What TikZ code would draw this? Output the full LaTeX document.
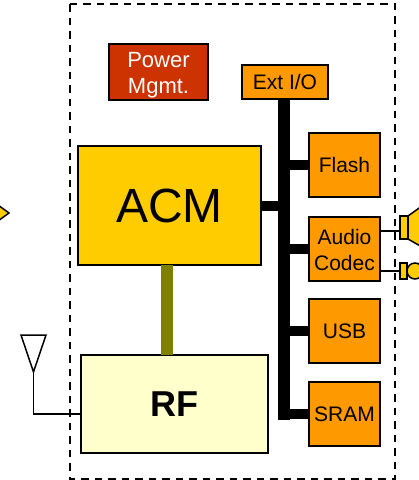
\documentclass[tikz,border=0pt]{standalone}
\usepackage{fontspec}
\setmainfont{Liberation Sans}
\definecolor{orangebox}{HTML}{FF9900}
\definecolor{acmyellow}{HTML}{FFCC00}
\definecolor{powerred}{HTML}{CC3300}
\definecolor{rfyellow}{HTML}{FFFFCC}
\definecolor{olivebar}{HTML}{808000}
\tikzset{
  x=1pt,y=-1pt,
  iobox/.style={draw=black,line width=1.6pt,inner sep=0pt,outer sep=0pt,align=center,anchor=north west,fill=orangebox,font=\fontsize{21}{25}\selectfont},
  busbar/.style={draw=none,fill=black,inner sep=0pt,outer sep=0pt,anchor=north west,minimum width=12pt,minimum height=321pt},
  buslink/.style={draw=black,line width=10pt},
  thin link/.style={draw=black,line width=1.6pt},
  part/.style={draw=black,line width=1.5pt,fill=acmyellow,line join=miter},
}
\begin{document}
\begin{tikzpicture}
\useasboundingbox (0,0) rectangle (419,480);
\clip (0,0) rectangle (419,480);
\draw[line width=1.3pt,dash pattern=on 7.5pt off 6pt] (70,4) rectangle (395,479);

\node[busbar] (bus) at (278,99) {};
\node[iobox,fill=powerred,text=white,font=\fontsize{22}{25}\selectfont,minimum width=99pt,minimum height=56pt] (power) at (109,44) {\raisebox{-2.5pt}[16pt][5pt]{Power}\\[1pt]\raisebox{-2.5pt}[16pt][5pt]{Mgmt.}};
\node[iobox,minimum width=86pt,minimum height=34pt] (extio) at (242,65) {Ext I/O};
\node[iobox,fill=acmyellow,font=\fontsize{48}{60}\selectfont,minimum width=183pt,minimum height=119pt] (acm) at (78,146) {ACM};
\node[iobox,fill=rfyellow,font=\fontsize{36}{40}\selectfont\bfseries,minimum width=187pt,minimum height=98pt] (rf) at (81,355) {RF};
\node[iobox,minimum width=71pt,minimum height=64pt] (flash) at (309,133) {Flash};
\node[iobox,minimum width=71pt,minimum height=64pt] (audio) at (309,217) {\raisebox{-3pt}[16pt][5pt]{Audio}\\[1pt]\raisebox{-3pt}[16pt][5pt]{Codec}};
\node[iobox,minimum width=71pt,minimum height=64pt] (usb) at (309,299) {USB};
\node[iobox,minimum width=71pt,minimum height=64pt] (sram) at (309,382) {SRAM};

\draw[buslink] (flash.west) -- (flash.west -| bus.east);
\draw[buslink] (audio.west) -- (audio.west -| bus.east);
\draw[buslink] (usb.west) -- (usb.west -| bus.east);
\draw[buslink] (sram.west) -- (sram.west -| bus.center);
\draw[buslink] (acm.east) -- (acm.east -| bus.west);
\path[fill=olivebar] ([xshift=-8.5pt]acm.south) rectangle ([xshift=3.5pt]acm.south |- rf.north);

% antenna
\coordinate (anttip) at (33.5,372);
\draw[line width=1.5pt,line join=miter] (21,335) -- (46,335) -- (anttip) -- cycle;
\draw[thin link] (anttip) |- (rf.west |- 0,414);

% left-edge marker
\path[part] (-2,205) -- (9,213) -- (-2,221) -- cycle;

% speaker and earphone
\coordinate (spk) at (400,231);
\coordinate (ear) at (400,271);
\draw[thin link] (audio.east |- spk) -- (spk);
\draw[thin link] (audio.east |- ear) -- (ear);
\draw[part] (408,216) -- (422,206) -- (422,247) -- (408,239) -- cycle;
\draw[part] (400,216) rectangle (408,239);
\draw[part] (415,271) circle (8);
\draw[part] (400,263) rectangle (407,279);
\end{tikzpicture}
\end{document}
